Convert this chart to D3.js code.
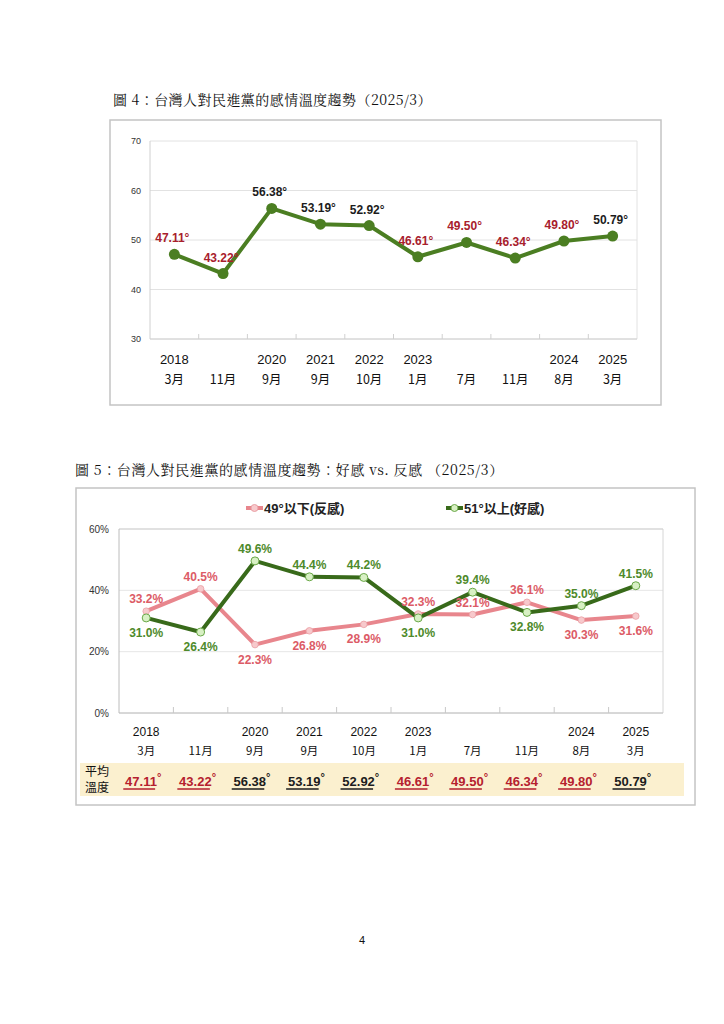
<!DOCTYPE html>
<html><head><meta charset="utf-8">
<script src="https://cdn.jsdelivr.net/npm/d3@7"></script>
<style>body{margin:0;background:#fff}svg{display:block}</style>
</head><body>
<script>
// ---------- data ----------
const yearLabels  = ["2018","","2020","2021","2022","2023","","","2024","2025"];
const monthLabels = ["3月","11月","9月","9月","10月","1月","7月","11月","8月","3月"];
const avgTemp  = [47.11,43.22,56.38,53.19,52.92,46.61,49.50,46.34,49.80,50.79];
const negShare = [33.2,40.5,22.3,26.8,28.9,32.3,32.1,36.1,30.3,31.6];
const posShare = [31.0,26.4,49.6,44.4,44.2,31.0,39.4,32.8,35.0,41.5];
const ticks1 = [30,40,50,60,70];
const ticks2 = [0,20,40,60];
const seriesNames = ["49°以下(反感)","51°以上(好感)"];
const title1 = "圖 4：台灣人對民進黨的感情溫度趨勢（2025/3）";
const title2 = "圖 5：台灣人對民進黨的感情溫度趨勢：好感 vs. 反感 （2025/3）";
const rowLabel = ["平均","溫度"];

// ---------- setup ----------
const W = 724, H = 1024;
const svg = d3.select("body").append("svg").attr("width", W).attr("height", H);
const sans = "'Liberation Sans', Arial, 'Noto Sans CJK TC', sans-serif";
const cjk = "'Noto Serif CJK TC','Noto Sans CJK TC', serif";
const idx = d3.range(avgTemp.length).map(String);
const RED = "#a8202c", DARK = "#1c1c1c";
const GREEN1 = "#4b7e22";
const PINK_L = "#e8868d", PINK_T = "#dc5b66", PINK_F = "#f7c9cc";
const GREEN2 = "#386a1a", GREEN2_T = "#4e8a2b", GREEN2_F = "#d8f0c4";

// ---------- chart 1 ----------
svg.append("text").attr("x", 113).attr("y", 105).attr("font-family", cjk)
  .attr("font-size", 14).attr("letter-spacing", 0.45).attr("fill", "#111").text(title1);
svg.append("rect").attr("x", 110).attr("y", 120).attr("width", 551).attr("height", 285)
  .attr("fill", "none").attr("stroke", "#c4c4c4").attr("stroke-width", 1.5);

const x1 = d3.scaleBand().domain(idx).range([150, 637]);
const y1 = d3.scaleLinear().domain([30, 70]).range([339, 141]);
const g1 = svg.append("g");
g1.selectAll(".g").data(ticks1).join("line")
  .attr("x1", 150).attr("x2", 637).attr("y1", d => y1(d)).attr("y2", d => y1(d))
  .attr("stroke", "#e2e2e2").attr("stroke-width", 1);
g1.append("line").attr("x1", 637).attr("x2", 637).attr("y1", y1(70)).attr("y2", y1(30)).attr("stroke", "#e2e2e2");
g1.append("line").attr("x1", 150).attr("x2", 150).attr("y1", y1(70)).attr("y2", y1(30)).attr("stroke", "#d0d0d0");
g1.append("line").attr("x1", 150).attr("x2", 637).attr("y1", y1(30)).attr("y2", y1(30)).attr("stroke", "#d0d0d0");
// category separators (inward ticks)
g1.selectAll(".t").data(idx.slice(1)).join("line")
  .attr("x1", d => x1(d)).attr("x2", d => x1(d)).attr("y1", y1(30) - 5).attr("y2", y1(30))
  .attr("stroke", "#d0d0d0");
g1.selectAll(".yl").data(ticks1).join("text")
  .attr("x", 141).attr("y", d => y1(d) + 3).attr("text-anchor", "end")
  .attr("font-family", sans).attr("font-size", 9).attr("fill", "#333").text(d => d);
g1.selectAll(".xy").data(idx).join("text")
  .attr("x", d => x1(d) + x1.bandwidth() / 2).attr("y", 364).attr("text-anchor", "middle")
  .attr("font-family", sans).attr("font-size", 13).attr("fill", "#111").text((d, i) => yearLabels[i]);
g1.selectAll(".xm").data(idx).join("text")
  .attr("x", d => x1(d) + x1.bandwidth() / 2).attr("y", 384).attr("text-anchor", "middle")
  .attr("font-family", "'Noto Sans CJK TC', sans-serif").attr("font-size", 12.5).attr("fill", "#111").text((d, i) => monthLabels[i]);

const cx1 = i => x1(idx[i]) + x1.bandwidth() / 2;
g1.append("path").datum(avgTemp)
  .attr("d", d3.line().x((d, i) => cx1(i)).y(d => y1(d)))
  .attr("fill", "none").attr("stroke", GREEN1).attr("stroke-width", 4).attr("stroke-linejoin", "round");
g1.selectAll(".pt").data(avgTemp).join("circle")
  .attr("cx", (d, i) => cx1(i)).attr("cy", d => y1(d)).attr("r", 5.5).attr("fill", GREEN1);
g1.selectAll(".lb").data(avgTemp).join("text")
  .attr("x", (d, i) => cx1(i) - 2).attr("y", d => y1(d) - 12).attr("text-anchor", "middle")
  .attr("font-family", sans).attr("font-weight", "bold").attr("font-size", 12)
  .attr("fill", d => d < 50 ? RED : DARK).text(d => d.toFixed(2) + "°");

// ---------- chart 2 ----------
svg.append("text").attr("x", 75).attr("y", 475).attr("font-family", cjk)
  .attr("font-size", 14).attr("letter-spacing", 0.6).attr("fill", "#111").text(title2);
svg.append("rect").attr("x", 76).attr("y", 488).attr("width", 619).attr("height", 317)
  .attr("fill", "none").attr("stroke", "#c4c4c4").attr("stroke-width", 1.5);

const x2 = d3.scaleBand().domain(idx).range([119, 663]);
const y2 = d3.scaleLinear().domain([0, 60]).range([713, 529]);
const cx2 = i => x2(idx[i]) + x2.bandwidth() / 2;
const g2 = svg.append("g");
g2.selectAll(".g").data(ticks2).join("line")
  .attr("x1", 119).attr("x2", 663).attr("y1", d => y2(d)).attr("y2", d => y2(d))
  .attr("stroke", "#e6e6e6");
g2.append("line").attr("x1", 663).attr("x2", 663).attr("y1", y2(60)).attr("y2", y2(0)).attr("stroke", "#d6d6d6");
g2.append("line").attr("x1", 119).attr("x2", 663).attr("y1", y2(60)).attr("y2", y2(60)).attr("stroke", "#cfcfcf");
g2.append("line").attr("x1", 119).attr("x2", 119).attr("y1", y2(60)).attr("y2", y2(0)).attr("stroke", "#bcbcbc");
g2.append("line").attr("x1", 119).attr("x2", 663).attr("y1", y2(0)).attr("y2", y2(0)).attr("stroke", "#bcbcbc");
g2.selectAll(".t").data(idx.slice(1)).join("line")
  .attr("x1", d => x2(d)).attr("x2", d => x2(d)).attr("y1", y2(0) - 6).attr("y2", y2(0))
  .attr("stroke", "#c8c8c8");
g2.selectAll(".yl").data(ticks2).join("text")
  .attr("x", 109).attr("y", d => y2(d) + 3.5).attr("text-anchor", "end")
  .attr("font-family", sans).attr("font-size", 10).attr("fill", "#333").text(d => d + "%");
g2.selectAll(".xy").data(idx).join("text")
  .attr("x", d => x2(d) + x2.bandwidth() / 2).attr("y", 736).attr("text-anchor", "middle")
  .attr("font-family", sans).attr("font-size", 12).attr("fill", "#111").text((d, i) => yearLabels[i]);
g2.selectAll(".xm").data(idx).join("text")
  .attr("x", d => x2(d) + x2.bandwidth() / 2).attr("y", 755).attr("text-anchor", "middle")
  .attr("font-family", "'Noto Sans CJK TC', sans-serif").attr("font-size", 11.5).attr("fill", "#111").text((d, i) => monthLabels[i]);

// lines
const line2 = d3.line().x((d, i) => cx2(i)).y(d => y2(d));
g2.append("path").datum(negShare).attr("d", line2).attr("fill", "none")
  .attr("stroke", PINK_L).attr("stroke-width", 4).attr("stroke-linejoin", "round");
g2.append("path").datum(posShare).attr("d", line2).attr("fill", "none")
  .attr("stroke", GREEN2).attr("stroke-width", 4).attr("stroke-linejoin", "round");
g2.selectAll(".pn").data(negShare).join("circle")
  .attr("cx", (d, i) => cx2(i)).attr("cy", d => y2(d)).attr("r", 3.3)
  .attr("fill", PINK_F).attr("stroke", "#eaa0a5").attr("stroke-width", 0.8);
g2.selectAll(".pp").data(posShare).join("circle")
  .attr("cx", (d, i) => cx2(i)).attr("cy", d => y2(d)).attr("r", 4)
  .attr("fill", GREEN2_F).attr("stroke", "#6aa848").attr("stroke-width", 1);

// labels: higher value above, lower below (7月 pink label sits above)
const negAbove = negShare.map((d, i) => d > posShare[i] || i === 6);
const posAbove = posShare.map((d, i) => d > negShare[i]);
g2.selectAll(".ln").data(negShare).join("text")
  .attr("x", (d, i) => cx2(i)).attr("y", (d, i) => y2(d) + (negAbove[i] ? -8 : 19))
  .attr("text-anchor", "middle").attr("font-family", sans).attr("font-weight", "bold")
  .attr("font-size", 12).attr("fill", PINK_T).text(d => d.toFixed(1) + "%");
g2.selectAll(".lp").data(posShare).join("text")
  .attr("x", (d, i) => cx2(i)).attr("y", (d, i) => y2(d) + (posAbove[i] ? -8 : 19))
  .attr("text-anchor", "middle").attr("font-family", sans).attr("font-weight", "bold")
  .attr("font-size", 12).attr("fill", GREEN2_T).text(d => d.toFixed(1) + "%");

// legend
const legend = [
  {name: seriesNames[0], x: 246, stroke: PINK_L, fill: PINK_F, ms: "#eaa0a5"},
  {name: seriesNames[1], x: 446, stroke: GREEN2, fill: GREEN2_F, ms: "#6aa848"}
];
const lg = svg.append("g").selectAll("g").data(legend).join("g");
lg.append("line").attr("x1", d => d.x).attr("x2", d => d.x + 17).attr("y1", 508).attr("y2", 508)
  .attr("stroke", d => d.stroke).attr("stroke-width", 4);
lg.append("circle").attr("cx", d => d.x + 8.5).attr("cy", 508).attr("r", 3.5)
  .attr("fill", d => d.fill).attr("stroke", d => d.ms).attr("stroke-width", 1);
lg.append("text").attr("x", d => d.x + 18).attr("y", 513)
  .attr("font-family", "'Liberation Sans','Noto Sans CJK TC',sans-serif").attr("font-weight", "bold")
  .attr("font-size", 13).attr("fill", "#222").text(d => d.name);

// average-temperature row
svg.append("rect").attr("x", 80).attr("y", 763).attr("width", 604).attr("height", 33).attr("fill", "#fbf0cf");
svg.selectAll(".rl").data(rowLabel).join("text")
  .attr("x", 97).attr("y", (d, i) => 776 + i * 16).attr("text-anchor", "middle")
  .attr("font-family", "'Noto Sans CJK TC', sans-serif").attr("font-size", 12).attr("fill", "#111").text(d => d);
const vals = svg.append("g").selectAll("g").data(avgTemp).join("g");
vals.each(function(d, i) {
  const g = d3.select(this);
  const col = d < 50 ? "#b5202e" : DARK;
  const t = g.append("text").attr("x", cx2(i) - 3).attr("y", 786).attr("text-anchor", "middle")
    .attr("font-family", sans).attr("font-weight", "bold").attr("font-size", 13).attr("fill", col);
  t.append("tspan").text(d.toFixed(2));
  const w = t.node().getComputedTextLength();
  t.append("tspan").attr("dy", -5).attr("font-size", 11).text("°");
  g.append("line").attr("x1", cx2(i) - 3 - w / 2 - 4).attr("x2", cx2(i) - 3 + w / 2 - 4)
    .attr("y1", 789).attr("y2", 789).attr("stroke", col).attr("stroke-width", 1.3);
});

// page number
svg.append("text").attr("x", 362).attr("y", 944).attr("text-anchor", "middle")
  .attr("font-family", sans).attr("font-size", 11).attr("fill", "#111").text("4");
</script>
</body></html>
